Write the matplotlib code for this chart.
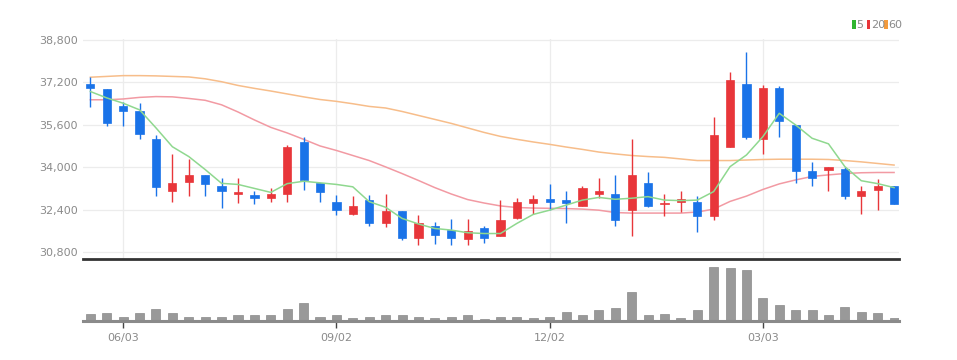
import matplotlib
matplotlib.use("Agg")
import matplotlib.pyplot as plt
from matplotlib.patches import Rectangle
import numpy as np

plt.rcParams['font.family'] = ['Liberation Sans Narrow', 'DejaVu Sans Condensed', 'DejaVu Sans']

# ---- data (weekly candles) ----
opens = [37150, 36950, 36300, 36100, 35050, 33100, 33450, 33700, 33300, 33000,
         32950, 32850, 33000, 34950, 33400, 32700, 32250, 32750, 31900, 32350,
         31350, 31800, 31650, 31300, 31700, 31400, 32100, 32650, 32800, 32750,
         32550, 33000, 33000, 32400, 33400, 32600, 32700, 32700, 32150, 34750,
         37150, 35050, 37000, 35600, 33850, 33900, 33950, 32900, 33150, 33300]
highs = [37400, 36950, 36450, 36400, 35200, 34500, 34300, 33700, 33600, 33600,
         33100, 33200, 34850, 35150, 33400, 32950, 32900, 32950, 33000, 32350,
         32200, 31950, 32050, 32050, 31800, 32750, 32850, 32950, 33350, 33100,
         33300, 33600, 33700, 35050, 33800, 33000, 33100, 32900, 35900, 37600,
         38350, 37100, 37050, 35600, 34200, 34000, 34000, 33300, 33550, 33300]
lows = [36250, 35550, 35550, 35050, 32900, 32700, 32900, 32900, 32450, 32650,
        32600, 32700, 32700, 33150, 32700, 32200, 32200, 31800, 31750, 31250,
        31050, 31100, 31050, 31050, 31150, 31400, 32050, 32250, 32400, 31900,
        32550, 32850, 31800, 31400, 32500, 32150, 32300, 31550, 32000, 34750,
        35050, 34500, 35150, 33400, 33300, 33100, 32800, 32250, 32400, 32600]
closes = [37000, 35650, 36100, 35250, 33250, 33400, 33700, 33350, 33100, 33050,
          32850, 33000, 34750, 33500, 33050, 32400, 32550, 31900, 32350, 31350,
          31900, 31450, 31350, 31600, 31350, 32000, 32700, 32800, 32700, 32650,
          33200, 33100, 32000, 33700, 32550, 32650, 32800, 32150, 35200, 37300,
          35150, 37000, 35750, 33850, 33600, 34000, 32900, 33100, 33300, 32600]
volumes = [20, 25, 13, 25, 36, 23, 11, 13, 11, 17, 17, 17, 36, 52, 13, 17, 8, 13, 17, 17,
           13, 9, 13, 17, 7, 13, 11, 8, 13, 28, 18, 32, 38, 85, 18, 22, 9, 33, 160, 155,
           151, 67, 47, 33, 33, 18, 42, 28, 23, 9]
ma5 = [36850, 36610, 36410, 36160, 35480, 34770, 34400, 33910, 33390, 33350,
       33200, 33050, 33380, 33470, 33410, 33350, 33260, 32700, 32490, 32070,
       31860, 31690, 31630, 31530, 31500, 31500, 31880, 32220, 32380, 32570,
       32760, 32860, 32790, 32830, 32890, 32760, 32740, 32760, 33080, 34020,
       34460, 35150, 36030, 35590, 35090, 34880, 34020, 33490, 33380, 33230]
ma20 = [36540, 36540, 36570, 36630, 36660, 36650, 36590, 36520, 36350, 36080,
        35780, 35500, 35290, 35050, 34800, 34630, 34440, 34250, 34010, 33760,
        33500, 33230, 32990, 32780, 32650, 32540, 32480, 32460, 32450, 32440,
        32420, 32380, 32290, 32270, 32270, 32270, 32270, 32310, 32420, 32710,
        32910, 33160, 33370, 33520, 33650, 33710, 33760, 33790, 33800, 33800]
ma60 = [37390, 37420, 37450, 37450, 37440, 37420, 37400, 37330, 37220, 37080,
        36970, 36870, 36760, 36650, 36550, 36480, 36390, 36290, 36230, 36100,
        35950, 35800, 35650, 35480, 35310, 35160, 35050, 34950, 34860, 34760,
        34670, 34570, 34500, 34440, 34400, 34370, 34310, 34250, 34250, 34250,
        34270, 34290, 34300, 34300, 34300, 34290, 34250, 34200, 34140, 34080]
tick_pos = [2, 15, 28, 41]
tick_labels = ['06/03', '09/02', '12/02', '03/03']
y_ticks = [30800, 32400, 34000, 35600, 37200, 38800]

UP = '#e8363a'
DOWN = '#1a73e8'

W, H = 957, 360
fig = plt.figure(figsize=(W / 100, H / 100), dpi=100)

def frac(x0, y0, x1, y1):
    return [x0 / W, 1 - y1 / H, (x1 - x0) / W, (y1 - y0) / H]

ax = fig.add_axes(frac(83, 39, 899, 259))
axv = fig.add_axes(frac(83, 262, 899, 321))

x = np.arange(len(opens))
xlim = (-0.45, 49.3)

# candles
for i in x:
    o, h, l, c = opens[i], highs[i], lows[i], closes[i]
    col = UP if c >= o else DOWN
    ax.vlines(i, l, h, color=col, linewidth=1.0, zorder=3)
    bottom = min(o, c)
    height = max(abs(c - o), 40)
    ax.add_patch(Rectangle((i - 0.25, bottom), 0.5, height, facecolor=col,
                           edgecolor=col, linewidth=0.5, zorder=4))

ax.plot(x, ma60, color='#f7bd8a', linewidth=1.1, zorder=2)
ax.plot(x, ma20, color='#f29aa3', linewidth=1.1, zorder=2)
ax.plot(x, ma5, color='#8fd88f', linewidth=1.1, zorder=5)

ax.set_xlim(*xlim)
ax.set_ylim(30540, 38830)
ax.set_yticks(y_ticks)
ax.set_yticklabels([f'{v:,}' for v in y_ticks])
ax.set_xticks(tick_pos)
ax.tick_params(axis='x', length=0, labelbottom=False)
ax.tick_params(axis='y', length=0, pad=4, labelsize=8, colors='#8a8a8a')
ax.grid(True, color='#ececec', linewidth=0.9, zorder=0)
for s in ['top', 'right', 'left']:
    ax.spines[s].set_visible(False)
ax.spines['bottom'].set_color('#333333')
ax.spines['bottom'].set_linewidth(2.0)

# volume
axv.bar(x, volumes, width=0.55, color='#999999', edgecolor='#8a8a8a', linewidth=0.5, zorder=2)
axv.set_xlim(*xlim)
axv.set_ylim(0, 174)
axv.set_yticks([])
axv.set_xticks(tick_pos)
axv.set_xticklabels(tick_labels)
axv.tick_params(axis='x', length=5, width=1, color='#444444', pad=4,
                labelsize=8, labelcolor='#8a8a8a')
for s in ['top', 'right', 'left']:
    axv.spines[s].set_visible(False)
axv.spines['bottom'].set_color('#8a8a8a')
axv.spines['bottom'].set_linewidth(2.2)

# legend top-right
legend_items = [('5', '#2fb52f', 852), ('20', UP, 866.5), ('60', '#f39a3c', 884)]
for lab, col, px in legend_items:
    fig.patches.append(Rectangle((px / W, 1 - 29 / H), 3.6 / W, 8.5 / H,
                                 transform=fig.transFigure, facecolor=col,
                                 edgecolor='none'))
    fig.text((px + 4.6) / W, 1 - 25 / H, lab, fontsize=8, color='#8a8a8a',
             va='center', ha='left')

fig.savefig('out.png', dpi=100)
